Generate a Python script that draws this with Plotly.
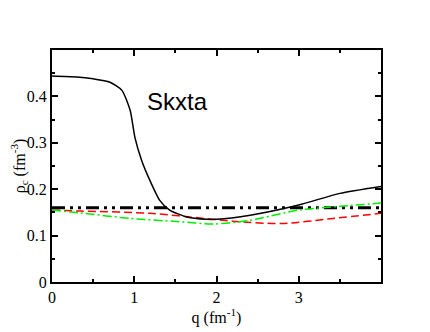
import plotly.graph_objects as go

# values
q_black = [0, 0.3, 0.5, 0.7, 0.85, 0.95, 1.01, 1.09, 1.19, 1.31, 1.43, 1.64, 1.88, 2.0, 2.41, 3.0, 3.5, 4.0]
rho_black = [0.444, 0.442, 0.438, 0.431, 0.413, 0.37, 0.31, 0.262, 0.219, 0.176, 0.155, 0.140, 0.135, 0.135, 0.144, 0.166, 0.191, 0.206]

q_flat = [0, 4.0]
rho_flat = [0.16, 0.16]

q_red = [0, 0.34, 1.19, 1.96, 2.2, 2.8, 3.42, 4.0]
rho_red = [0.155, 0.153, 0.148, 0.135, 0.131, 0.126, 0.137, 0.148]

q_green = [0, 0.34, 0.95, 1.55, 1.96, 2.41, 3.0, 3.5, 4.0]
rho_green = [0.155, 0.149, 0.137, 0.130, 0.125, 0.133, 0.155, 0.163, 0.170]

serif = "Liberation Serif, Times New Roman, serif"

fig = go.Figure()
fig.add_trace(go.Scatter(x=q_flat, y=rho_flat, mode="lines",
                         line=dict(color="black", width=3, dash="13px,5px,3px,5px,3px,5px")))
fig.add_trace(go.Scatter(x=q_red, y=rho_red, mode="lines",
                         line=dict(color="red", width=1.5, dash="8px,4px", shape="spline", smoothing=0.8)))
fig.add_trace(go.Scatter(x=q_green, y=rho_green, mode="lines",
                         line=dict(color="#00ee00", width=1.5, dash="9px,3px,2px,3px", shape="spline", smoothing=0.8)))
fig.add_trace(go.Scatter(x=q_black, y=rho_black, mode="lines",
                         line=dict(color="black", width=1.5, shape="spline", smoothing=0.6)))

axis_common = dict(
    showline=True, linecolor="black", linewidth=2, mirror="ticks",
    ticks="inside", ticklen=6, tickwidth=1.5, tickcolor="black",
    showgrid=False, zeroline=False, automargin=False,
    tickfont=dict(family=serif, size=16, color="black"),
    title_font=dict(family=serif, size=16, color="black"),
)

# page body has an 8px margin, so the figure is a bit smaller than the window
fig.update_layout(
    width=422, height=324,
    margin=dict(l=44, r=49, t=42, b=50),
    paper_bgcolor="white", plot_bgcolor="white",
    showlegend=False,
    xaxis=dict(range=[0, 4], tickvals=[0, 1, 2, 3], title_text="q (fm<sup>-1</sup>)", title_standoff=2,
               minor=dict(ticks="inside", ticklen=3, tickvals=[0.5, 1.5, 2.5, 3.5], tickcolor="black"),
               **axis_common),
    yaxis=dict(range=[0, 0.5], tickvals=[0, 0.1, 0.2, 0.3, 0.4], ticktext=["0", "0.1", "0.2", "0.3", "0.4"],
               title_text="ρ<sub>c</sub> (fm<sup>-3</sup>)", title_standoff=2,
               minor=dict(ticks="inside", ticklen=3, tickvals=[0.05, 0.15, 0.25, 0.35, 0.45], tickcolor="black"),
               **axis_common),
    annotations=[dict(x=1.13, y=0.39, xref="x", yref="y", text="Skxta", showarrow=False,
                      xanchor="left", yanchor="middle",
                      font=dict(family="Liberation Sans", size=24, color="black"))],
)

fig.write_html("out.html")
